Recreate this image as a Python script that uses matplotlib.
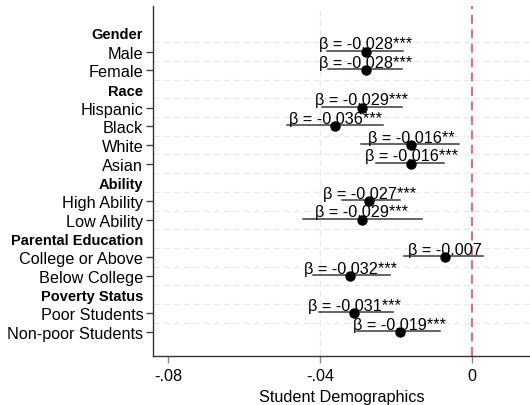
import matplotlib
matplotlib.use("Agg")
import matplotlib.pyplot as plt
import numpy as np

plt.rcParams['font.family'] = ['Liberation Sans', 'DejaVu Sans']

rows = ["Gender", "Male", "Female", "Race", "Hispanic", "Black", "White", "Asian",
        "Ability", "High Ability", "Low Ability", "Parental Education",
        "College or Above", "Below College", "Poverty Status", "Poor Students",
        "Non-poor Students"]
headers = ["Gender", "Race", "Ability", "Parental Education", "Poverty Status"]

groups = ["Male", "Female", "Hispanic", "Black", "White", "Asian", "High Ability",
          "Low Ability", "College or Above", "Below College", "Poor Students",
          "Non-poor Students"]
coef = [-0.028, -0.028, -0.029, -0.036, -0.016, -0.016, -0.027, -0.029,
        -0.007, -0.032, -0.031, -0.019]
ci_low = [-0.0382, -0.0380, -0.0396, -0.0488, -0.0292, -0.0253, -0.0343, -0.0446,
          -0.0178, -0.0418, -0.0404, -0.0303]
ci_high = [-0.0181, -0.0185, -0.0185, -0.0233, -0.0033, -0.0074, -0.0189, -0.0132,
           0.0030, -0.0216, -0.0207, -0.0084]
stars = ["***", "***", "***", "***", "**", "***", "***", "***", "", "***", "***", "***"]
xticks = [-0.08, -0.04, 0.0]
xtick_labels = ["-.08", "-.04", "0"]

fig = plt.figure(figsize=(5.30, 4.06), dpi=100)
ax = fig.add_axes([153/530, 49/406, 1 - 153/530, (357 - 7)/406])

ypos = {r: i for i, r in enumerate(rows)}
ax.set_xlim(-0.084, 0.0153)
ax.set_ylim(len(rows) - 1 + 1.28, -1.44)

# gridlines
for i in range(len(rows) - 1):
    ax.axhline(i + 0.5, color='#e8e8e8', lw=0.9, ls=(0, (5, 3)), zorder=0)
ax.axvline(-0.04, color='#e8e8e8', lw=0.9, ls=(0, (5, 3)), zorder=0)
ax.axvline(0, color='#ff5555', lw=1.3, ls=(0, (5, 3)), zorder=1)

for g, c, lo, hi, s in zip(groups, coef, ci_low, ci_high, stars):
    y = ypos[g]
    ax.plot([lo, hi], [y - 0.05, y - 0.05], color='#3a3a3a', lw=1.1, zorder=2)
    ax.plot([c], [y], 'o', color='black', ms=6.5, zorder=3)
    ax.annotate(f"β = {c:.3f}{s}", xy=(c, y), xytext=(0, 2.5), textcoords='offset points',
                ha='center', va='baseline', fontsize=11.7, color='black', zorder=4)

ax.set_yticks(range(len(rows)))
ax.set_yticklabels(rows, fontsize=11.7)
for tick, r in zip(ax.yaxis.get_major_ticks(), rows):
    if r in headers:
        tick.tick1line.set_visible(False)
        tick.label1.set_fontweight('bold')
        tick.label1.set_fontsize(10.5)
ax.tick_params(axis='y', length=5, width=1, color='#444444', pad=2)

ax.set_xticks(xticks)
ax.set_xticklabels(xtick_labels, fontsize=11.7)
ax.tick_params(axis='x', length=5, width=1, color='#888888', pad=4)
ax.set_xlabel("Student Demographics", fontsize=11.7, labelpad=4)

for sp in ['top', 'right']:
    ax.spines[sp].set_visible(False)
for sp in ['left', 'bottom']:
    ax.spines[sp].set_color('#333333')
    ax.spines[sp].set_linewidth(1.0)

fig.savefig("out.png", dpi=100)
